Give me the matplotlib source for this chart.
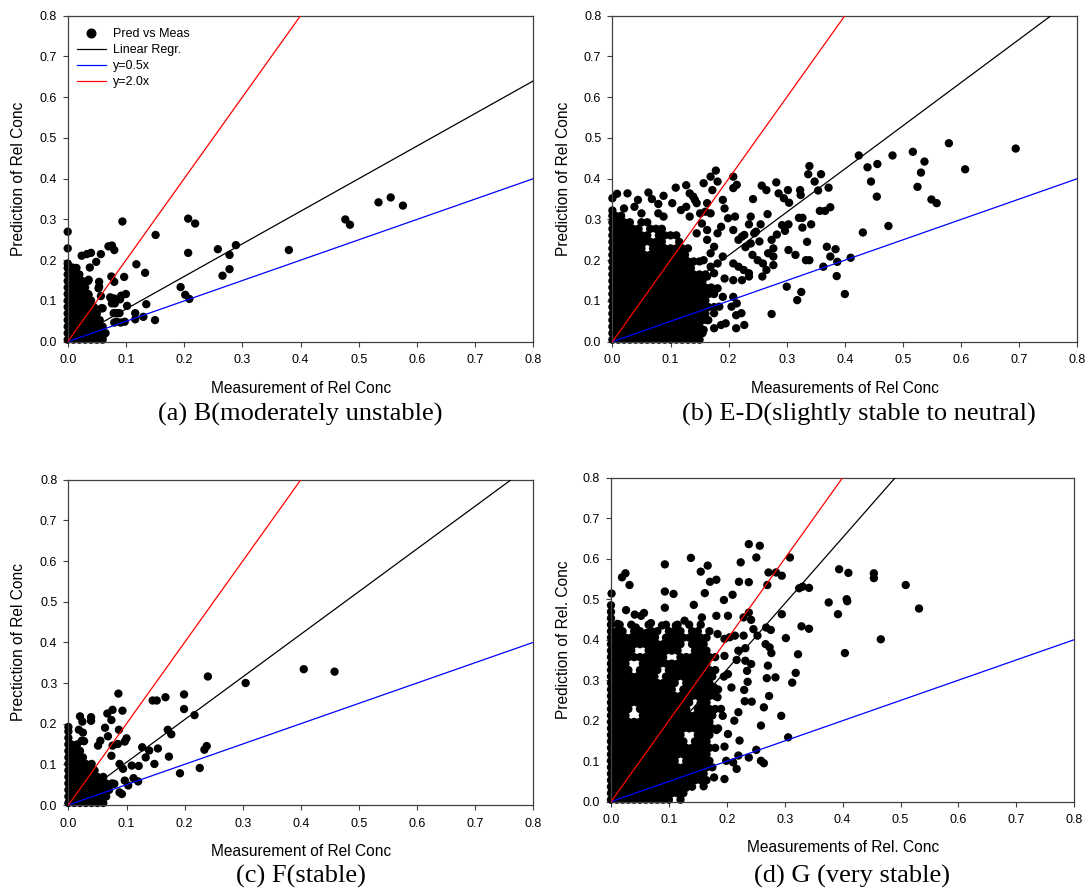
import matplotlib
matplotlib.use("Agg")
import matplotlib.pyplot as plt
from matplotlib.lines import Line2D

plt.rcParams['font.family'] = ['Liberation Sans', 'DejaVu Sans']

# ---------------- data ----------------
tick_vals = [0.0, 0.1, 0.2, 0.3, 0.4, 0.5, 0.6, 0.7, 0.8]
tick_labels = ["0.0", "0.1", "0.2", "0.3", "0.4", "0.5", "0.6", "0.7", "0.8"]

# regression slopes (lines through origin)
slope_a, slope_b, slope_c, slope_d = 0.80, 1.06, 1.05, 1.63

# ---- panel (a): dense core rows and isolated points
a_row_y = [.005, .021, .037, .053, .069, .085, .101, .117, .133, .149, .165, .181, .192]
a_row_x = [
    [0, .01, .02, .03, .04, .05, .06],
    [0, .005, .015, .025, .035, .045, .055, .065],
    [0, .01, .02, .03, .04, .05, .06],
    [0, .005, .015, .025, .035, .045, .055],
    [0, .01, .02, .03, .04, .05],
    [0, .005, .015, .025, .035, .045],
    [0, .01, .02, .03, .04],
    [0, .005, .015, .025, .035],
    [0, .01, .02, .03],
    [0, .005, .015, .025],
    [0, .01, .02],
    [0, .005, .015],
    [0],
]
a_x = [.534, .555, .576, .477, .485, .380, .207, .219, .207, .258, .289, .278, .278, .266, .194, .202,
       .209, .151, .094, .118, .133, .097, .080, .075, .070, .076, .080, .057, .040, .033, .024, .049,
       .038, 0.0, 0.0, .008, .035, .054, .135, .150, .130, .116, .116, .100, .092, .102, .089, .091,
       .080, .079, .076, .073, .080, .060, .057, .054, .057, .048, .036, .053, .036, .084, .084, .098,
       .058, .060, .047, .090, .081, .075, .058]
a_y = [.342, .354, .334, .300, .287, .225, .302, .290, .218, .227, .237, .213, .178, .162, .134, .115,
       .105, .262, .295, .190, .169, .159, .147, .160, .234, .236, .225, .215, .218, .215, .211, .196,
       .182, .270, .229, .182, .149, .147, .092, .053, .061, .070, .055, .117, .113, .088, .070, .047,
       .047, .070, .094, .109, .106, .082, .112, .135, .016, .029, .152, .131, .115, .070, .049, .049,
       .021, .013, .013, .104, .094, .106, .082]

# ---- panel (b)
b_row_y = [.005, .021, .037, .053, .069, .085, .101, .117, .133, .149, .165, .181, .197, .213,
           .229, .245, .261, .277, .293, .309, .322]
b_row_x = [
    [0, .01, .02, .03, .04, .05, .06, .07, .08, .09, .10, .11, .12, .13, .14, .15],
    [0, .005, .015, .025, .035, .045, .055, .065, .075, .085, .095, .105, .115, .125, .135, .145, .155],
    [0, .01, .02, .03, .04, .05, .06, .07, .08, .09, .10, .11, .12, .13, .14, .15],
    [0, .005, .015, .025, .035, .045, .055, .065, .075, .085, .095, .105, .115, .125, .135, .145, .155, .165],
    [0, .01, .02, .03, .04, .05, .06, .07, .08, .09, .10, .11, .12, .13, .14, .15, .16],
    [0, .005, .015, .025, .035, .045, .055, .065, .075, .085, .095, .105, .115, .125, .135, .145, .155, .165, .175],
    [0, .01, .02, .03, .04, .05, .06, .07, .08, .09, .10, .11, .12, .13, .14, .15, .16],
    [0, .005, .015, .025, .035, .045, .055, .065, .075, .085, .095, .105, .115, .125, .135, .145, .155, .165, .175],
    [0, .01, .02, .03, .04, .05, .06, .07, .08, .09, .10, .11, .12, .13, .14, .15, .16, .17],
    [0, .005, .015, .025, .035, .045, .055, .065, .075, .085, .095, .105, .115, .125, .135, .145, .155],
    [0, .01, .02, .03, .04, .05, .06, .07, .08, .09, .10, .11, .12, .13, .14, .15, .16],
    [0, .005, .015, .025, .035, .045, .055, .065, .075, .085, .095, .105, .115, .125, .135],
    [0, .01, .02, .03, .04, .05, .06, .07, .08, .09, .10, .11, .12, .13, .14, .15],
    [0, .005, .015, .025, .035, .045, .055, .065, .075, .085, .095, .105, .115, .125],
    [0, .01, .02, .03, .04, .05, .07, .08, .09, .10, .11, .12, .13],
    [0, .005, .015, .025, .035, .045, .055, .065, .075, .085, .115],
    [0, .01, .02, .03, .04, .05, .06, .08, .09, .10, .11],
    [0, .005, .015, .025, .035, .045, .065, .075, .085],
    [0, .01, .02, .03, .05, .06],
    [0, .005, .015],
    [0],
]
b_x = [.008, 0.0, .026, .044, .062, .068, .088, .109, .127, .133, .142, .157, .169, .178, .181, .172,
       .160, .190, .208, .214, .208, .242, .257, .265, .282, .286, .295, .302, .304, .323, .324, .337,
       .339, .348, .359, .354, .372, .375, .357, .366, .342, .327, .321, .327, .303, .297, .292, .283,
       .274, .267, .255, .253, .244, .235, .223, .229, .217, .208, .211, .193, .199, .187, .181, .190,
       .181, .208, .217, .226, .235, .241, .250, .259, .265, .258, .277, .277, .303, .315, .333, .339,
       .335, .369, .384, .375, .363, .387, .386, .410, .400, .325, .318, .300, .274, .431, .475, .424,
       .439, .445, .456, .455, .482, .517, .537, .531, .525, .549, .558, .579, .607, .694,
       .213, .222, .227, .213, .195, .175, .187, .205, .214, .190, .208, .181, .169, .193, .208, .223,
       .235, .145, .157, .163, .175, .184, .238, .227, .238, .247, .268, .277,
       .139, .145, .151, .163, .169, .133, .154, .163, .145, .175, .163, .169, .157, .169, .163, .175,
       .038, .050, .079, .088, .103, .118, .127, .020, .079]
b_y = [.363, .352, .364, .348, .366, .350, .358, .378, .384, .364, .348, .389, .405, .420, .393, .372,
       .319, .348, .405, .385, .377, .350, .383, .372, .391, .364, .352, .372, .341, .372, .360, .411,
       .431, .393, .411, .371, .378, .330, .321, .321, .288, .304, .304, .280, .288, .272, .286, .263,
       .250, .313, .288, .246, .266, .288, .258, .232, .250, .274, .307, .327, .303, .282, .266, .209,
       .192, .192, .184, .176, .168, .213, .200, .192, .176, .160, .209, .188, .225, .213, .200, .200,
       .245, .233, .227, .209, .184, .196, .161, .206, .117, .122, .102, .135, .068, .268, .284, .457,
       .428, .393, .436, .356, .457, .466, .442, .415, .380, .349, .340, .487, .423, .474,
       .065, .070, .041, .033, .045, .033, .041, .086, .094, .110, .110, .131, .119, .155, .151, .151,
       .160, .012, .029, .053, .070, .086, .307, .262, .241, .270, .217, .229,
       .356, .340, .315, .340, .315, .307, .290, .274, .266, .233, .250, .217, .200, .184, .160, .168,
       .331, .315, .315, .307, .340, .323, .331, .327, .338]

# ---- panel (c)
c_row_y = [.005, .021, .037, .053, .069, .085, .101, .117, .133, .149, .165, .181, .192]
c_row_x = [
    [0, .01, .02, .03, .04, .05, .06],
    [0, .005, .015, .025, .035, .045, .055, .065],
    [0, .01, .02, .03, .04, .05, .06, .07],
    [0, .005, .015, .025, .035, .045, .055, .065, .075],
    [0, .01, .02, .03, .04, .05, .06],
    [0, .005, .015, .025, .035, .045],
    [0, .01, .02, .03, .04],
    [0, .005, .015, .025],
    [0, .01, .02],
    [0, .005, .015],
    [0],
    [0],
    [0],
]
c_x = [.405, .458, .305, .240, .199, .199, .217, .167, .152, .145, .171, .177, .173, .154, .127, .139,
       .133, .148, .238, .234, .226, .192, .086, .093, .076, .067, .074, .087, .100, .097, .085, .063,
       .020, .039, .039, .024, .018, .025, .023, .027, .055, .068, .051, .074, .076, .088, .094, .109,
       .121, .097, .112, .120, .103, .088, .092, .055, .079]
c_y = [.334, .328, .300, .316, .272, .236, .221, .265, .257, .257, .185, .174, .119, .139, .142, .134,
       .117, .101, .145, .136, .091, .078, .274, .232, .234, .225, .209, .185, .164, .156, .150, .190,
       .218, .216, .207, .205, .185, .178, .158, .157, .158, .169, .146, .121, .146, .101, .089, .097,
       .096, .060, .066, .058, .048, .031, .027, .025, .052]

# ---- panel (d)
d_row_y = [.005, .021, .037, .053, .069, .085, .101, .117, .133, .149, .165, .181, .197, .213,
           .229, .245, .261, .277, .293, .309, .325, .341, .357, .373, .389, .405, .421, .437,
           .453, .469, .485]
d_row_x = [
    [0, .01, .02, .03, .04, .05, .06, .07, .08, .09, .10, .12],
    [0, .005, .015, .025, .035, .045, .055, .065, .075, .085, .095, .105, .115, .125],
    [0, .01, .02, .03, .04, .05, .06, .07, .08, .09, .10, .11, .12, .13, .14],
    [0, .005, .015, .025, .035, .045, .055, .065, .075, .085, .095, .105, .115, .125, .135, .145, .155, .165],
    [0, .01, .02, .03, .04, .05, .06, .07, .08, .09, .10, .11, .12, .13, .14, .15, .16],
    [0, .005, .015, .025, .035, .045, .055, .065, .075, .085, .095, .105, .115, .125, .135, .145, .155, .165, .175],
    [0, .01, .02, .03, .04, .05, .06, .07, .08, .09, .10, .11, .13, .14, .15, .16, .17],
    [0, .005, .015, .025, .035, .045, .055, .065, .075, .085, .095, .105, .115, .125, .135, .145, .155, .165],
    [0, .01, .02, .03, .04, .05, .06, .07, .08, .09, .10, .11, .12, .13, .14, .15, .16, .17, .18],
    [0, .005, .015, .025, .035, .045, .055, .065, .075, .085, .095, .105, .115, .125, .145, .155, .165],
    [0, .01, .02, .03, .04, .05, .06, .07, .08, .09, .10, .11, .12, .15, .16, .17],
    [0, .005, .015, .025, .035, .045, .055, .065, .075, .085, .095, .105, .115, .125, .135, .145, .155, .165, .175, .185],
    [0, .01, .02, .03, .04, .05, .06, .07, .08, .09, .10, .11, .12, .13, .14, .15, .16, .17],
    [0, .005, .015, .025, .055, .065, .075, .085, .095, .105, .115, .125, .135, .145, .155, .165, .175],
    [0, .01, .02, .03, .05, .06, .07, .08, .09, .10, .11, .12, .13, .15, .16, .17, .18, .19],
    [0, .005, .015, .025, .035, .045, .055, .065, .075, .085, .095, .105, .115, .125, .135, .155, .165],
    [0, .01, .02, .03, .04, .05, .06, .07, .08, .09, .10, .11, .12, .13, .14, .15, .16, .17, .18],
    [0, .005, .015, .025, .035, .045, .055, .065, .075, .085, .095, .105, .125, .135, .145, .155, .165, .175, .185],
    [0, .01, .02, .03, .04, .05, .06, .07, .08, .09, .10, .11, .13, .14, .15, .16, .17],
    [0, .005, .015, .025, .035, .045, .055, .065, .075, .095, .105, .115, .125, .135, .145, .155, .165, .175, .195],
    [0, .01, .02, .03, .05, .06, .07, .08, .10, .11, .12, .13, .14, .15, .16, .17, .18],
    [0, .005, .015, .025, .055, .065, .075, .085, .095, .105, .115, .125, .135, .145, .155, .165],
    [0, .01, .02, .03, .04, .05, .06, .07, .08, .09, .12, .13, .14, .15, .16, .17, .18],
    [0, .005, .015, .025, .035, .065, .075, .085, .095, .105, .115, .145, .155, .165],
    [0, .01, .02, .03, .04, .05, .06, .07, .08, .09, .10, .11, .12, .14, .15, .16],
    [0, .005, .015, .025, .035, .045, .055, .065, .075, .095, .105, .115, .125, .135, .145, .155, .165],
    [0, .01, .02, .04, .05, .07, .08, .10, .11, .12, .14, .15, .17],
    [0, .015, .035, .065, .095, .115, .135, .155],
    [0],
    [0],
    [0],
]
d_x = [.238, .257, .251, .224, .309, .138, .167, .155, .093, .025, .019, .032, .001, .093, .108, .093,
       .143, .162, .171, .182, .195, .210, .221, .238, .270, .272, .285, .295, .295, .325, .331, .342,
       .329, .342, .302, .323, .319, .313, .294, .306, .259, .264, .273, .269, .284, .271, .277, .274,
       .267, .276, .268, .376, .392, .394, .410, .407, .408, .404, .454, .454, .466, .509, .532,
       .243, .231, .230, .236, .235, .242, .232, .242, .238, .229, .246, .253, .229, .214, .205, .220,
       .232, .217, .202, .208, .220, .213, .222, .202, .196, .220, .238, .251, .259, .264, .217, .196,
       .178, .160, .111, .129, .074, .199, .211, .182, .193, .184, .178, .196, .184, .196, .182, .202,
       .157, .127, .112, .088, .069, .041, .052, .057, .026, .011, .043, .062, .076, .043, .034]
d_y = [.636, .632, .603, .591, .603, .602, .583, .568, .586, .564, .554, .535, .514, .519, .513, .479,
       .486, .515, .543, .548, .498, .511, .543, .542, .535, .566, .566, .558, .463, .527, .531, .528,
       .433, .427, .404, .364, .318, .294, .212, .159, .188, .233, .261, .305, .307, .336, .367, .381,
       .389, .424, .430, .492, .463, .574, .565, .500, .495, .367, .564, .552, .401, .535, .477,
       .247, .248, .276, .296, .323, .340, .348, .449, .467, .455, .426, .410, .410, .410, .406, .373,
       .379, .350, .315, .282, .221, .200, .151, .167, .136, .114, .109, .128, .101, .095, .081, .056,
       .060, .038, .023, .034, .019, .101, .097, .177, .212, .258, .282, .360, .414, .402, .459, .459,
       .455, .447, .435, .435, .441, .462, .459, .466, .473, .439, .430, .417, .406, .393, .381]

panels = [
    dict(rows_y=a_row_y, rows_x=a_row_x, px=a_x, py=a_y, slope=slope_a,
         xlabel="Measurement of Rel Conc", ylabel="Prediction of Rel Conc",
         caption="(a) B(moderately unstable)"),
    dict(rows_y=b_row_y, rows_x=b_row_x, px=b_x, py=b_y, slope=slope_b,
         xlabel="Measurements of Rel Conc", ylabel="Prediction of Rel Conc",
         caption="(b) E-D(slightly stable to neutral)"),
    dict(rows_y=c_row_y, rows_x=c_row_x, px=c_x, py=c_y, slope=slope_c,
         xlabel="Measurement of Rel Conc", ylabel="Prectiction of Rel Conc",
         caption="(c) F(stable)"),
    dict(rows_y=d_row_y, rows_x=d_row_x, px=d_x, py=d_y, slope=slope_d,
         xlabel="Measurements of Rel. Conc", ylabel="Prediction of Rel. Conc",
         caption="(d) G (very stable)"),
]

# ---------------- layout (pixels in a 1088x888 canvas) ----------------
W, H = 1088, 888
axes_px = [(67.7, 15.7, 533.3, 341.7), (612.4, 15.7, 1077.3, 341.7),
           (68.4, 479.7, 533.3, 805.0), (611.0, 477.7, 1074.2, 801.7)]
xlabel_pos = [(300.8, 393.3), (845.0, 393.3), (300.8, 856.0), (842.7, 852.3)]
ylabel_pos = [(19, 179.2), (563, 179.2), (19, 642.3), (563, 639.3)]
caption_pos = [(300.6, 421.0), (859.0, 421.0), (300.7, 883.0), (852.0, 883.0)]

fig = plt.figure(figsize=(W / 100, H / 100), dpi=100)
spine_col = '#404040'
line_x = [0.0, 0.8]

for i, p in enumerate(panels):
    l, t, r, b = axes_px[i]
    ax = fig.add_axes([l / W, 1 - b / H, (r - l) / W, (b - t) / H])
    xs, ys = [], []
    for yv, row in zip(p['rows_y'], p['rows_x']):
        xs += list(row)
        ys += [yv] * len(row)
    xs += p['px']
    ys += p['py']
    ax.scatter(xs, ys, s=36, c='black', edgecolors='none', zorder=2, clip_on=False)
    ax.plot(line_x, [p['slope'] * v for v in line_x], color='black', lw=0.9, zorder=3)
    ax.plot(line_x, [0.5 * v for v in line_x], color='blue', lw=0.9, zorder=3)
    ax.plot(line_x, [2.0 * v for v in line_x], color='red', lw=0.9, zorder=3)
    ax.set_xlim(0, 0.8)
    ax.set_ylim(0, 0.8)
    ax.set_xticks(tick_vals)
    ax.set_xticklabels(tick_labels)
    ax.set_yticks(tick_vals)
    ax.set_yticklabels(tick_labels)
    ax.tick_params(axis='both', direction='out', length=3.5, width=0.8, color=spine_col,
                   labelsize=9, top=False, right=False)
    ax.tick_params(axis='x', pad=5.5)
    ax.tick_params(axis='y', pad=4.5)
    for sp in ax.spines.values():
        sp.set_color(spine_col)
        sp.set_linewidth(0.9)

    fx, fy = xlabel_pos[i]
    fig.text(fx / W, 1 - fy / H, p['xlabel'], ha='center', va='baseline', fontsize=11.2)
    fx, fy = ylabel_pos[i]
    fig.text(fx / W, 1 - fy / H, p['ylabel'], ha='center', va='center', rotation=90, fontsize=11.2)
    fx, fy = caption_pos[i]
    fig.text(fx / W, 1 - fy / H, p['caption'], ha='center', va='baseline', fontsize=19,
             family='Liberation Serif')

    if i == 0:
        handles = [Line2D([], [], marker='o', ls='none', color='black', markersize=6.2),
                   Line2D([], [], color='black', lw=0.9),
                   Line2D([], [], color='blue', lw=0.9),
                   Line2D([], [], color='red', lw=0.9)]
        ax.legend(handles, ["Pred vs Meas", "Linear Regr.", "y=0.5x", "y=2.0x"],
                  loc='upper left', bbox_to_anchor=(0.02, 0.962), frameon=False,
                  fontsize=9, handlelength=2.3, handletextpad=0.6, labelspacing=0.32,
                  borderpad=0, borderaxespad=0)

fig.savefig("out.png", dpi=100)
